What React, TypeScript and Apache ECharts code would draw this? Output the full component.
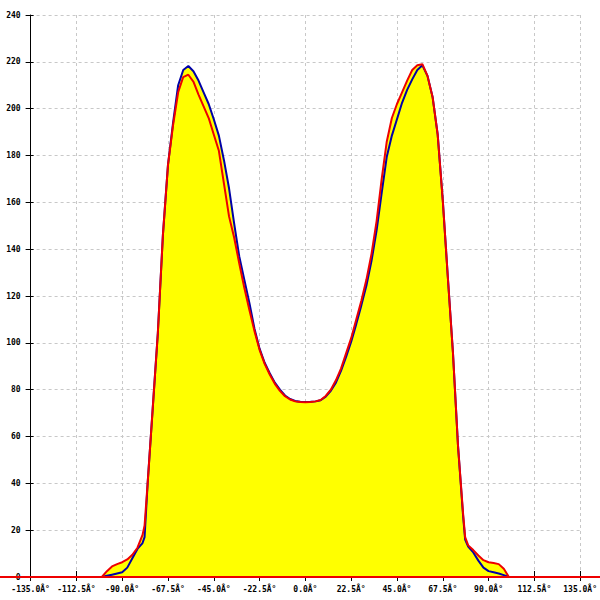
import React, { useEffect, useRef } from "react";
import * as echarts from "echarts";

const angles = [
  -100, -97.5, -95, -92.5, -90, -87.5, -85, -82.5, -80, -79, -77.5, -75, -72.5, -70, -67.5, -65, -62.5, -60,
  -57.5, -55, -52.5, -50, -47.5, -45, -42.5, -40, -37.5, -35, -32.5, -30, -27.5, -25, -22.5, -20, -17.5, -15,
  -12.5, -10, -7.5, -5, -2.5, 0, 2.5, 5, 7.5, 10, 12.5, 15, 17.5, 20, 22.5, 25, 27.5, 30, 32.5, 35, 37.5, 40,
  42.5, 45, 47.5, 50, 52.5, 55, 57.5, 60, 62.5, 65, 67.5, 70, 72.5, 75, 77.5, 78.5, 80, 82.5, 85, 87.5, 90,
  92.5, 95, 97.5, 100,
];

const blueValues = [
  0, 0.5, 1, 1.5, 2, 4, 8, 12, 14.5, 17, 40, 72, 104, 146, 176, 194, 210, 216.5,
  218.2, 216, 212, 207, 202, 195.5, 188.5, 178, 166, 151, 137, 127, 117, 106, 97.5, 91.5, 87, 83,
  80, 77.5, 76, 75.2, 74.8, 74.7, 74.8, 75, 75.5, 77, 79.5, 83, 88, 94, 100.5, 108, 116, 124.5, 135, 148, 164, 179.5,
  188.5, 195.5, 202.5, 208, 212.5, 216.5, 218.5, 214, 205, 189, 161, 128, 96, 56, 26, 16, 13, 10.5, 7, 4, 2.5,
  2, 1.5, 0.8, 0,
];

const redValues = [
  0, 2.5, 4.5, 5.5, 6.3, 7.5, 9.5, 12.5, 18, 22, 40, 72, 104, 146, 176, 193, 207, 213.5,
  214.5, 211.5, 206, 201, 196, 189, 182, 168, 154, 145, 134, 123.5, 114, 105, 97, 91, 86.5, 82.5,
  79.5, 77.2, 75.8, 75, 74.7, 74.6, 74.7, 75, 75.6, 77.3, 80, 84, 89, 95.5, 102, 110, 118, 127, 138, 152, 170, 186,
  196, 202, 207, 212, 216.5, 218.5, 219, 214, 205, 189, 161, 128, 96, 56, 27, 17, 13.5, 11.5, 9.2, 7.2, 6.3,
  6, 5.5, 3.5, 0,
];

const baselineValue = 0;

const xMin = -135;
const xMax = 135;
const xStep = 22.5;
const yMin = 0;
const yMax = 240;
const yStep = 20;

const fontFamily = "DejaVu Sans Mono";

export default function App() {
  const ref = useRef<HTMLDivElement>(null);

  useEffect(() => {
    if (!ref.current) return;
    const chart = echarts.init(ref.current, undefined, { renderer: "svg" });
    const blueData = angles.map((a, i) => [a, blueValues[i]]);
    const redData = angles.map((a, i) => [a, redValues[i]]);

    const labelStyle = {
      color: "#000",
      fontFamily,
      fontSize: 8,
      fontWeight: "bold" as const,
    };

    chart.setOption({
      animation: false,
      backgroundColor: "#fff",
      grid: { left: 30.6, right: 14.6, top: 15, bottom: 23, containLabel: false },
      xAxis: [
        {
          type: "value",
          min: xMin,
          max: xMax,
          interval: xStep,
          position: "bottom",
          axisLine: { show: true, onZero: false, lineStyle: { color: "#000", width: 1 } },
          axisTick: { show: true, inside: true, length: 6, lineStyle: { color: "#000" } },
          axisLabel: {
            ...labelStyle,
            margin: 8,
            formatter: (v: number) => v.toFixed(1) + "Â°",
          },
          splitLine: { show: true, lineStyle: { color: "#c8c8c8", type: [3, 3], width: 1 } },
        },
        {
          type: "value",
          min: xMin,
          max: xMax,
          interval: xStep,
          position: "bottom",
          offset: 0,
          axisLine: { show: false, onZero: false },
          axisTick: { show: true, inside: false, length: 4, lineStyle: { color: "#000" } },
          axisLabel: { show: false },
          splitLine: { show: false },
        },
      ],
      yAxis: [
        {
          type: "value",
          min: yMin,
          max: yMax,
          interval: yStep,
          position: "left",
          axisLine: { show: true, onZero: false, lineStyle: { color: "#000", width: 1 } },
          axisTick: { show: true, inside: false, length: 5, lineStyle: { color: "#000" } },
          axisLabel: { ...labelStyle, margin: 10 },
          splitLine: { show: true, lineStyle: { color: "#c8c8c8", type: [3, 3], width: 1 } },
        },
        {
          type: "value",
          min: yMin,
          max: yMax,
          interval: yStep,
          position: "left",
          offset: 0,
          axisLine: { show: false, onZero: false },
          axisTick: { show: true, inside: true, length: 3, lineStyle: { color: "#000" } },
          axisLabel: { show: false },
          splitLine: { show: false },
        },
      ],
      series: [
        {
          type: "line",
          data: blueData,
          showSymbol: false,
          lineStyle: { width: 0 },
          areaStyle: { color: "#ffff00", opacity: 1 },
          z: 1,
        },
        {
          type: "line",
          data: redData,
          showSymbol: false,
          lineStyle: { width: 0 },
          areaStyle: { color: "#ffff00", opacity: 1 },
          z: 1,
        },
        {
          type: "line",
          data: blueData,
          showSymbol: false,
          lineStyle: { color: "#0000a8", width: 2 },
          z: 3,
        },
        {
          type: "line",
          data: redData,
          showSymbol: false,
          lineStyle: { color: "#ee0000", width: 2 },
          z: 4,
        },
      ],
    });

    const p = chart.convertToPixel({ gridIndex: 0 }, [xMin, baselineValue]) as number[];
    const y0 = p[1];
    const w = chart.getWidth();
    chart.setOption({
      graphic: [
        {
          type: "line",
          z: 100,
          shape: { x1: 0, y1: y0, x2: w, y2: y0 },
          style: { stroke: "#ee0000", lineWidth: 2 },
        },
      ],
    });

    return () => chart.dispose();
  }, []);

  return (
    <div
      ref={ref}
      style={{ position: "absolute", left: 0, top: 0, width: 600, height: 600 }}
    />
  );
}
